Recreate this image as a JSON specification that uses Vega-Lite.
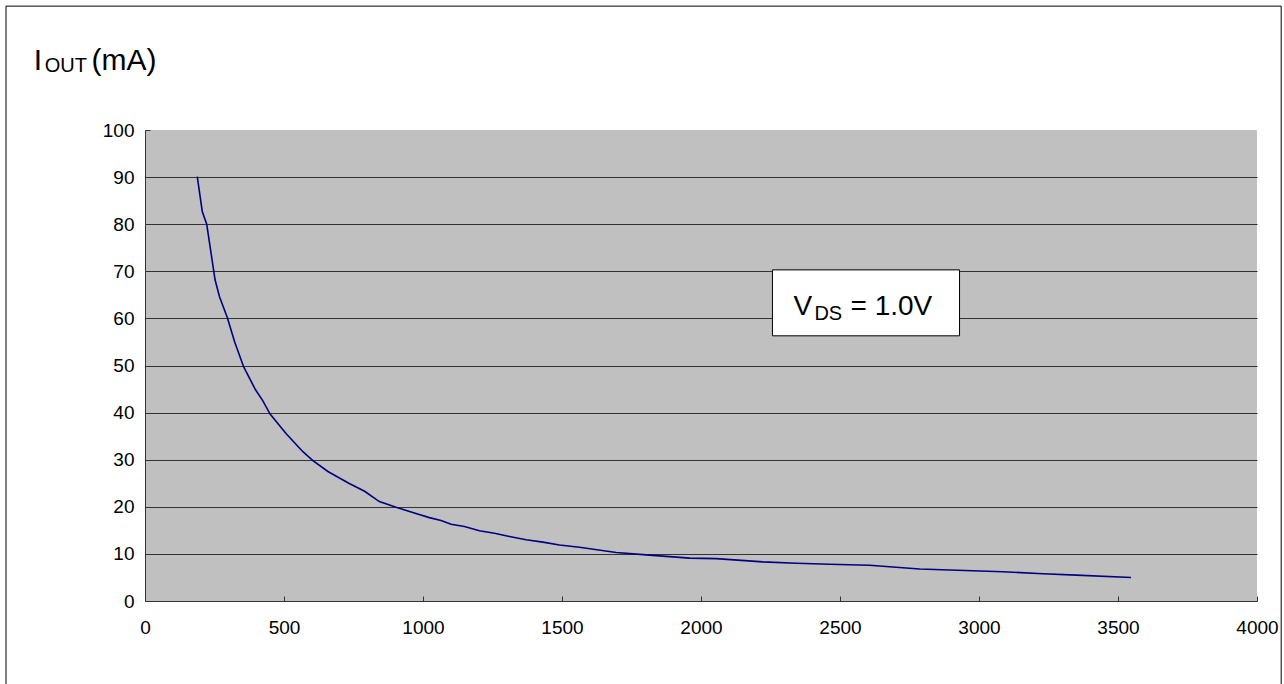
{
  "$schema": "https://vega.github.io/schema/vega-lite/v6.json",
  "width": 1112,
  "height": 471,
  "autosize": "none",
  "padding": {"left": 145, "top": 130, "right": 27, "bottom": 83},
  "background": "white",
  "config": {
    "font": "Arial, Liberation Sans",
    "view": {"fill": "#c0c0c0", "stroke": null},
    "axis": {
      "labelFont": "Arial, Liberation Sans",
      "labelFontSize": 19,
      "labelColor": "black",
      "labelFlush": false,
      "labelOverlap": false,
      "domainColor": "#333333",
      "tickColor": "#333333",
      "tickSize": -5,
      "title": null
    }
  },
  "datasets": {
    "curve": [
      {"r": 188, "iout": 90.1},
      {"r": 206, "iout": 82.7},
      {"r": 222, "iout": 80.0},
      {"r": 236, "iout": 74.5},
      {"r": 252, "iout": 68.2},
      {"r": 268, "iout": 64.6},
      {"r": 296, "iout": 60.2},
      {"r": 322, "iout": 55.1},
      {"r": 355, "iout": 49.7},
      {"r": 397, "iout": 44.9},
      {"r": 424, "iout": 42.5},
      {"r": 450, "iout": 39.7},
      {"r": 508, "iout": 35.5},
      {"r": 568, "iout": 31.7},
      {"r": 604, "iout": 29.8},
      {"r": 658, "iout": 27.5},
      {"r": 733, "iout": 25.0},
      {"r": 790, "iout": 23.3},
      {"r": 843, "iout": 21.1},
      {"r": 903, "iout": 19.9},
      {"r": 963, "iout": 18.8},
      {"r": 1023, "iout": 17.7},
      {"r": 1065, "iout": 17.1},
      {"r": 1101, "iout": 16.3},
      {"r": 1149, "iout": 15.8},
      {"r": 1203, "iout": 14.9},
      {"r": 1257, "iout": 14.4},
      {"r": 1311, "iout": 13.7},
      {"r": 1371, "iout": 13.0},
      {"r": 1431, "iout": 12.5},
      {"r": 1491, "iout": 11.9},
      {"r": 1563, "iout": 11.4},
      {"r": 1695, "iout": 10.3},
      {"r": 1803, "iout": 9.8},
      {"r": 1959, "iout": 9.1},
      {"r": 2055, "iout": 9.0},
      {"r": 2222, "iout": 8.3},
      {"r": 2343, "iout": 8.0},
      {"r": 2462, "iout": 7.8},
      {"r": 2606, "iout": 7.6},
      {"r": 2786, "iout": 6.8},
      {"r": 3086, "iout": 6.2},
      {"r": 3230, "iout": 5.8},
      {"r": 3350, "iout": 5.5},
      {"r": 3547, "iout": 5.0}
    ],
    "frame": [{"x1": -500, "x2": 4087, "y1": 126.3, "y2": -19}],
    "box": [{"x1": 2257, "x2": 2930, "y1": 56.3, "y2": 70.3}],
    "bigText": [
      {"x": -400, "y": 112.7, "t": "I"},
      {"x": -192, "y": 112.7, "t": "(mA)"}
    ],
    "subText": [
      {"x": -361, "y": 112.3, "t": "OUT"},
      {"x": 2408, "y": 59.7, "t": "DS"}
    ],
    "boxText": [
      {"x": 2333, "y": 60.7, "t": "V"},
      {"x": 2538, "y": 60.7, "t": "= 1.0V"}
    ]
  },
  "layer": [
    {
      "data": {"name": "frame"},
      "mark": {"type": "rect", "fill": null, "stroke": "black", "strokeWidth": 1, "clip": false},
      "encoding": {
        "x": {"field": "x1", "type": "quantitative", "scale": {"domain": [0, 4000], "nice": false}, "axis": {"values": [0, 500, 1000, 1500, 2000, 2500, 3000, 3500, 4000], "format": "d", "grid": false, "labelPadding": 22}},
        "x2": {"field": "x2"},
        "y": {"field": "y1", "type": "quantitative", "scale": {"domain": [0, 100], "nice": false}, "axis": {"orient": "left", "values": [0, 10, 20, 30, 40, 50, 60, 70, 80, 90, 100], "grid": false, "labelPadding": 16}},
        "y2": {"field": "y2"}
      }
    },
    {
      "data": {"name": "curve"},
      "mark": {"type": "line", "color": "#000080", "strokeWidth": 1.6},
      "encoding": {
        "x": {"field": "r", "type": "quantitative"},
        "y": {"field": "iout", "type": "quantitative", "axis": {"orient": "left", "values": [10, 20, 30, 40, 50, 60, 70, 80, 90], "grid": true, "gridColor": "#333333", "gridWidth": 1, "gridOpacity": 1, "labels": false, "ticks": false, "domain": false}}
      }
    },
    {
      "data": {"name": "box"},
      "mark": {"type": "rect", "fill": "white", "stroke": "black", "strokeWidth": 1},
      "encoding": {
        "x": {"field": "x1", "type": "quantitative"},
        "x2": {"field": "x2"},
        "y": {"field": "y1", "type": "quantitative", "axis": null},
        "y2": {"field": "y2"}
      }
    },
    {
      "data": {"name": "bigText"},
      "mark": {"type": "text", "fontSize": 30, "align": "left", "baseline": "alphabetic", "color": "black", "clip": false},
      "encoding": {
        "x": {"field": "x", "type": "quantitative"},
        "y": {"field": "y", "type": "quantitative", "axis": null},
        "text": {"field": "t"}
      }
    },
    {
      "data": {"name": "subText"},
      "mark": {"type": "text", "fontSize": 20, "align": "left", "baseline": "alphabetic", "color": "black", "clip": false},
      "encoding": {
        "x": {"field": "x", "type": "quantitative"},
        "y": {"field": "y", "type": "quantitative", "axis": null},
        "text": {"field": "t"}
      }
    },
    {
      "data": {"name": "boxText"},
      "mark": {"type": "text", "fontSize": 28, "align": "left", "baseline": "alphabetic", "color": "black"},
      "encoding": {
        "x": {"field": "x", "type": "quantitative"},
        "y": {"field": "y", "type": "quantitative", "axis": null},
        "text": {"field": "t"}
      }
    }
  ],
  "resolve": {"axis": {"y": "independent"}}
}
